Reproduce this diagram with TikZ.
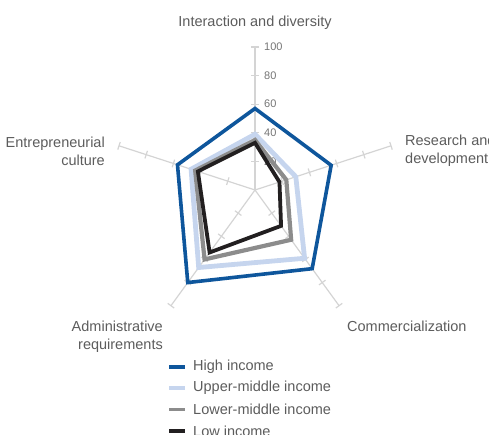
\documentclass[tikz,border=0pt]{standalone}
\usepackage{fontspec}
\setmainfont{Liberation Sans}
\usetikzlibrary{positioning}
\definecolor{highinc}{RGB}{14,86,156}
\definecolor{uppermid}{RGB}{198,213,238}
\definecolor{lowermid}{RGB}{140,140,140}
\definecolor{lowinc}{RGB}{34,31,32}
\definecolor{axisgray}{RGB}{212,212,212}
\definecolor{labelgray}{RGB}{92,92,92}
\tikzstyle{axisline} = [draw=axisgray, line width=1.2pt]
\tikzstyle{axislabel} = [text=labelgray, font=\fontsize{14.5}{18}\selectfont, inner sep=0pt]
\tikzstyle{ticklabel} = [text=labelgray!85, font=\fontsize{11}{12}\selectfont, inner sep=0pt, anchor=west]
\tikzstyle{high} = [draw=highinc, line width=3.6pt, line join=miter]
\tikzstyle{upper} = [draw=uppermid, line width=4.8pt, line join=miter]
\tikzstyle{lower} = [draw=lowermid, line width=4.2pt, line join=miter]
\tikzstyle{low} = [draw=lowinc, line width=3.8pt, line join=miter]

\begin{document}
\begin{tikzpicture}[x=1pt, y=1pt]
    \useasboundingbox (0,0) rectangle (489,434);
    \clip (0,0) rectangle (489,434);
    \coordinate (C) at (255,244);

    \begin{scope}[shift={(C)}, x=1.43pt, y=1.43pt]
        % axes with ticks every 20
        \foreach \ang/\nm in {90/int, 18/res, -54/com, -126/adm, 162/ent} {
            \coordinate (\nm) at (\ang:100);
            \draw[axisline] (0,0) -- (\nm);
            \foreach \r in {20,40,60,80,100}
                \draw[axisline, rotate=\ang] (\r,-2.8) -- (\r,2.8);
        }
        \foreach \r in {20,40,60,80,100}
            \node[ticklabel] (tick\r) at (6.3,\r) {\r};

        % one polygon per income group: int, res, com, adm, ent
        \foreach \grp/\a/\b/\c/\d/\e in {high/57/56/68/80/57, upper/39/30/59/67/47,
                                        lower/35/23/43/60/44, low/33/18/31/54/42}
            \draw[\grp] (90:\a) -- (18:\b) -- (-54:\c) -- (-126:\d) -- (162:\e) -- cycle;
    \end{scope}

    \node[axislabel] (intlab) at (255,411) {Interaction and diversity};
    \node[axislabel, anchor=west, align=left] (reslab) at (405,283) {Research and\\development};
    \node[axislabel, anchor=west] (comlab) at (347,108) {Commercialization};
    \node[axislabel, anchor=east, align=right] (admlab) at (163,97.5) {Administrative\\requirements};
    \node[axislabel, anchor=east, align=right] (entlab) at (105,283) {Entrepreneurial\\culture};

    % legend
    \node[axislabel, anchor=west] (leghigh) at (193,67) {High income};
    \node[axislabel, anchor=west] (legupper) at (193,46) {Upper-middle income};
    \node[axislabel, anchor=west] (leglower) at (193,24.5) {Lower-middle income};
    \node[axislabel, anchor=west] (leglow) at (193,3) {Low income};
    \draw[highinc, line width=3.2pt] ([xshift=-24pt]leghigh.west) -- ([xshift=-8pt]leghigh.west);
    \draw[uppermid, line width=3.2pt] ([xshift=-24pt]legupper.west) -- ([xshift=-8pt]legupper.west);
    \draw[lowermid, line width=3.2pt] ([xshift=-24pt]leglower.west) -- ([xshift=-8pt]leglower.west);
    \draw[lowinc, line width=3.2pt] ([xshift=-24pt]leglow.west) -- ([xshift=-8pt]leglow.west);
\end{tikzpicture}
\end{document}
